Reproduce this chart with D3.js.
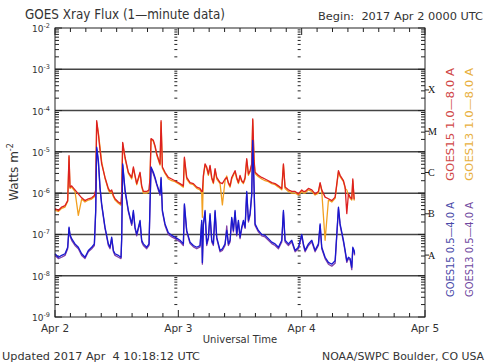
<!DOCTYPE html>
<html>
<head>
<meta charset="utf-8">
<script src="https://cdn.jsdelivr.net/npm/d3@7"></script>
<style>
    body { margin: 0; background: #fff; }
    svg { display: block; font-family: "DejaVu Sans", sans-serif; }
</style>
</head>
<body>
<div id="chart"></div>
<script>
// time in hours after 2017 Apr 2 0000 UTC
const hours = [0, 0.65, 1.3, 1.95, 2.47, 2.73, 2.92, 3.24, 3.89, 4.54, 5.19, 5.84, 6.49, 7.14, 7.66, 7.92,
    8.11, 8.44, 8.76, 9.08, 9.73, 10.38, 10.71, 11.03, 11.36, 11.68, 12.33, 12.85, 12.98, 13.17, 13.63, 14.28,
    14.93, 15.25, 15.57, 15.9, 16.55, 16.87, 17.2, 17.85, 18.3, 18.49, 18.69, 19.14, 19.47, 19.79, 20.44, 20.64,
    20.9, 21.41, 22.06, 22.71, 23.36, 24.33, 24.98, 25.18, 25.63, 26.28, 26.93, 27.58, 28.23, 28.55, 28.68, 28.88,
    29.2, 29.52, 29.85, 30.17, 30.5, 30.82, 31.15, 31.47, 32.12, 32.57, 33.09, 33.42, 33.74, 34.07, 34.39, 34.72,
    35.04, 35.36, 35.69, 36.01, 36.34, 36.66, 36.99, 37.31, 37.64, 37.96, 38.28, 38.48, 38.74, 38.93, 39.58, 40.23,
    40.88, 41.53, 42.18, 42.83, 43.48, 44.13, 44.45, 44.77, 45.42, 46.07, 46.72, 47.37, 48.02, 48.34, 48.67, 49.32,
    49.97, 50.61, 51.26, 51.59, 51.91, 52.56, 53.21, 53.86, 54.51, 55.16, 55.48, 56.13, 56.46, 56.78, 57.1, 57.43,
    57.75, 57.95, 58.21, 58.3];

// GOES15 1.0-8.0 A (W m-2)
const goes15Long = [4.2e-7, 3.8e-7, 4.6e-7, 5.0e-7, 6.6e-7, 8.1e-6, 1.4e-6, 1.5e-6, 1.2e-6, 9.6e-7, 7.7e-7, 6.6e-7,
    7.3e-7, 7.7e-7, 8.8e-7, 1.2e-6, 5.7e-5, 2.7e-5, 1.1e-5, 5.1e-6, 2.4e-6, 1.3e-6, 1.1e-6, 1.2e-6, 8.8e-7, 7.3e-7,
    6.1e-7, 5.5e-7, 9.6e-7, 1.7e-5, 7.4e-6, 3.2e-6, 2.4e-6, 4.3e-6, 2.7e-6, 1.7e-6, 3.2e-6, 1.5e-6, 1.1e-6, 1.1e-6,
    1.2e-6, 2.4e-6, 2.1e-5, 1.9e-5, 1.4e-5, 9.0e-6, 5.1e-6, 5.7e-5, 4.3e-6, 3.2e-6, 2.4e-6, 2.2e-6, 2.0e-6, 1.7e-6,
    1.5e-6, 7.4e-6, 2.4e-6, 1.8e-6, 1.7e-6, 1.4e-6, 1.3e-6, 1.1e-6, 1.1e-6, 2.7e-6,
    5.1e-6, 4.3e-6, 2.9e-6, 4.7e-6, 2.4e-6, 1.8e-6, 3.9e-6, 2.4e-6, 1.8e-6, 1.7e-6, 2.2e-6, 2.4e-6, 1.8e-6, 1.5e-6,
    2.4e-6, 2.9e-6, 3.5e-6, 2.4e-6, 1.8e-6, 2.7e-6, 2.0e-6, 1.8e-6, 2.4e-6, 6.8e-6, 2.9e-6, 3.5e-6, 5.1e-6, 6.3e-5,
    6.2e-6, 3.2e-6, 2.7e-6, 2.4e-6, 2.2e-6, 2.0e-6, 1.8e-6, 1.7e-6, 1.5e-6, 1.3e-6, 5.1e-6, 1.4e-6, 1.2e-6, 1.1e-6,
    1.1e-6, 9.6e-7, 1.2e-6, 1.1e-6, 1.1e-6, 1.3e-6, 1.2e-6, 9.6e-7, 1.1e-6, 1.8e-6, 1.2e-6, 8.0e-7, 7.3e-7, 6.6e-7,
    8.0e-7, 3.5e-6, 2.7e-6, 2.0e-6, 1.4e-6, 3.2e-7, 9.6e-7, 8.0e-7, 7.3e-7, 2.2e-6, 7.3e-7, 7.3e-7];

// GOES13 1.0-8.0 A
const goes13Long = [3.8e-7, 3.6e-7, 4.3e-7, 4.6e-7, 6.3e-7, 7.5e-6, 1.3e-6, 1.4e-6, 1.1e-6, 2.9e-7, 7.2e-7, 6.1e-7,
    6.8e-7, 7.2e-7, 8.2e-7, 1.1e-6, 5.2e-5, 2.9e-5, 1.3e-5, 5.8e-6, 2.3e-6, 1.2e-6, 1.0e-6, 1.1e-6, 8.2e-7, 6.8e-7,
    5.7e-7, 5.1e-7, 9.0e-7, 1.6e-5, 6.9e-6, 3.0e-6, 2.2e-6, 4.0e-6, 2.5e-6, 1.6e-6, 3.0e-6, 1.4e-6, 1.0e-6, 1.0e-6,
    1.1e-6, 2.2e-6, 2.0e-5, 1.8e-5, 1.3e-5, 8.4e-6, 4.8e-6, 5.2e-5, 4.0e-6, 3.0e-6, 2.2e-6, 2.0e-6, 1.9e-6, 1.6e-6,
    1.4e-6, 6.9e-6, 2.2e-6, 1.7e-6, 1.6e-6, 1.3e-6, 1.2e-6, 1.0e-6, 2.6e-7, 2.5e-6,
    4.8e-6, 4.0e-6, 2.7e-6, 4.4e-6, 2.2e-6, 1.7e-6, 3.6e-6, 2.2e-6, 1.7e-6, 5.2e-7, 2.0e-6, 2.6e-6, 1.7e-6, 1.4e-6,
    2.2e-6, 2.7e-6, 3.3e-6, 2.2e-6, 1.7e-6, 2.5e-6, 1.9e-6, 1.7e-6, 2.2e-6, 6.3e-6, 2.7e-6, 3.3e-6, 4.8e-6, 5.9e-5,
    5.8e-6, 3.0e-6, 2.5e-6, 2.2e-6, 2.0e-6, 1.9e-6, 1.7e-6, 1.6e-6, 1.4e-6, 1.2e-6, 4.8e-6, 1.3e-6, 1.1e-6, 1.0e-6,
    1.0e-6, 9.0e-7, 1.1e-6, 1.0e-6, 1.0e-6, 1.2e-6, 1.1e-6, 9.0e-7, 1.0e-6, 1.7e-6, 1.1e-6, 7.2e-8, 6.8e-7, 6.1e-7,
    7.5e-7, 3.3e-6, 2.5e-6, 1.9e-6, 1.3e-6, 1.2e-6, 9.0e-7, 7.5e-7, 6.8e-7, 2.0e-6, 6.8e-7, 6.8e-7];

// GOES15 0.5-4.0 A
const goes15Short = [3.4e-8, 2.8e-8, 3.1e-8, 3.4e-8, 4.9e-8, 1.5e-7, 1.0e-7, 7.9e-8, 5.9e-8, 4.9e-8, 3.4e-8, 2.8e-8,
    4.1e-8, 4.9e-8, 5.9e-8, 3.8e-7, 1.3e-5, 6.2e-6, 1.4e-6, 5.5e-7, 1.5e-7, 5.9e-8, 4.9e-8, 8.6e-8, 4.1e-8, 3.4e-8,
    3.1e-8, 2.8e-8, 8.6e-8, 5.1e-6, 1.2e-6, 3.8e-7, 1.8e-7, 3.8e-7, 1.5e-7, 1.0e-7, 2.2e-7, 7.2e-8, 5.9e-8, 4.9e-8,
    5.9e-8, 5.5e-7, 4.3e-6, 3.2e-6, 2.4e-6, 1.7e-6, 9.6e-7, 2.4e-6, 3.8e-7, 1.8e-7, 1.1e-7, 9.5e-8, 8.6e-8, 7.2e-8,
    5.9e-8, 5.5e-7, 1.25e-7, 6.5e-8, 5.4e-8, 4.9e-8, 5.4e-8, 2.2e-7, 2.1e-8, 1.8e-7,
    3.8e-7, 5.9e-8, 8.6e-8, 3.2e-7, 7.2e-8, 5.9e-8, 3.8e-7, 8.6e-8, 4.1e-8, 4.5e-8, 5.9e-8, 1.25e-7, 5.9e-8, 7.2e-8,
    2.6e-7, 1.25e-7, 3.8e-7, 1.0e-7, 2.2e-7, 8.6e-8, 1.5e-7, 2.2e-7, 1.5e-7, 1.1e-6, 2.2e-7, 3.2e-7, 9.6e-7, 1.9e-5,
    1.4e-6, 1.8e-7, 1.25e-7, 1.0e-7, 9.5e-8, 7.9e-8, 6.5e-8, 5.9e-8, 4.9e-8, 7.2e-8, 3.8e-7, 7.2e-8, 5.9e-8, 7.2e-8,
    4.1e-8, 4.9e-8, 1.0e-7, 5.9e-8, 4.1e-8, 5.9e-8, 7.2e-8, 4.1e-8, 5.9e-8, 1.8e-7, 4.9e-8, 2.8e-8, 2.1e-8, 1.9e-8,
    2.3e-8, 4.6e-7, 1.8e-7, 7.2e-8, 4.1e-8, 2.3e-8, 2.8e-8, 2.6e-8, 1.6e-8, 4.9e-8, 4.1e-8, 3.4e-8];

// GOES13 0.5-4.0 A
const goes13Short = [3.1e-8, 2.6e-8, 2.8e-8, 3.1e-8, 4.5e-8, 1.4e-7, 9.2e-8, 7.2e-8, 5.4e-8, 4.5e-8, 3.1e-8, 2.6e-8,
    3.8e-8, 4.5e-8, 5.4e-8, 3.5e-7, 1.2e-5, 5.7e-6, 1.3e-6, 5.1e-7, 1.4e-7, 5.4e-8, 4.5e-8, 7.9e-8, 3.8e-8, 3.1e-8,
    2.8e-8, 2.6e-8, 7.9e-8, 4.7e-6, 1.1e-6, 3.5e-7, 1.65e-7, 3.5e-7, 1.4e-7, 9.2e-8, 2.0e-7, 6.6e-8, 5.4e-8, 4.5e-8,
    5.4e-8, 5.1e-7, 4.0e-6, 2.9e-6, 2.2e-6, 1.6e-6, 8.8e-7, 2.2e-6, 3.5e-7, 1.65e-7, 1.0e-7, 8.7e-8, 7.9e-8, 6.6e-8,
    5.4e-8, 5.1e-7, 1.15e-7, 6.0e-8, 5.0e-8, 4.5e-8, 5.0e-8, 2.0e-7, 1.9e-8, 1.65e-7,
    3.5e-7, 5.4e-8, 7.9e-8, 2.9e-7, 6.6e-8, 5.4e-8, 3.5e-7, 7.9e-8, 3.8e-8, 4.1e-8, 5.4e-8, 1.6e-7, 5.4e-8, 6.6e-8,
    2.4e-7, 1.15e-7, 3.5e-7, 9.2e-8, 2.0e-7, 7.9e-8, 1.4e-7, 2.0e-7, 1.4e-7, 1.0e-6, 2.0e-7, 2.9e-7, 8.8e-7, 1.75e-5,
    1.3e-6, 1.65e-7, 1.15e-7, 9.2e-8, 8.7e-8, 7.2e-8, 6.0e-8, 5.4e-8, 4.5e-8, 6.6e-8, 3.5e-7, 6.6e-8, 5.4e-8, 6.6e-8,
    3.8e-8, 4.5e-8, 9.2e-8, 5.4e-8, 3.8e-8, 5.4e-8, 6.6e-8, 3.8e-8, 5.4e-8, 1.65e-7, 4.5e-8, 2.6e-8, 1.9e-8, 1.7e-8,
    2.0e-8, 4.2e-7, 1.65e-7, 6.6e-8, 3.8e-8, 2.1e-8, 2.6e-8, 2.4e-8, 1.4e-8, 4.5e-8, 3.8e-8, 3.1e-8];

const dayLabels = ['Apr 2', 'Apr 3', 'Apr 4', 'Apr 5'];
const decades = [-9, -8, -7, -6, -5, -4, -3, -2];
const flareClasses = ['A', 'B', 'C', 'M', 'X'];   // 1e-8 .. 1e-4 lower bounds

function init() {
    const width = 486, height = 364;
    const left = 55, right = 425, top = 28, bottom = 317;

    const svg = d3.select('#chart')
        .append('svg')
        .attr('width', width)
        .attr('height', height);

    svg.append('rect').attr('width', width).attr('height', height).attr('fill', '#fff');

    const xScale = d3.scaleLinear().domain([0, 72]).range([left, right]);
    const yScale = d3.scaleLog().domain([1e-9, 1e-2]).range([bottom, top]);

    const ink = '#222';

    // horizontal decade lines
    svg.append('g')
        .selectAll('line')
        .data(decades.slice(1, -1))
        .join('line')
        .attr('x1', left).attr('x2', right)
        .attr('y1', d => yScale(Math.pow(10, d)))
        .attr('y2', d => yScale(Math.pow(10, d)))
        .attr('stroke', '#444')
        .attr('stroke-width', 1.5);

    // minor log ticks
    const minorY = [];
    decades.slice(0, -1).forEach(p => {
        for (let m = 2; m <= 9; m++) minorY.push(m * Math.pow(10, p));
    });

    const ticks = svg.append('g').attr('stroke', ink).attr('stroke-width', 1);

    // left and right axis ticks
    [[left, 1], [right, -1]].forEach(([x0, dir]) => {
        ticks.selectAll(null).data(decades).join('line')
            .attr('x1', x0).attr('x2', x0 + dir * 7)
            .attr('y1', d => yScale(Math.pow(10, d))).attr('y2', d => yScale(Math.pow(10, d)));
        ticks.selectAll(null).data(minorY).join('line')
            .attr('x1', x0).attr('x2', x0 + dir * 4)
            .attr('y1', d => yScale(d)).attr('y2', d => yScale(d));
    });

    // dotted tick columns at each day boundary
    [24, 48].forEach(h => {
        const x0 = xScale(h) - 1;
        ticks.selectAll(null).data(minorY).join('line')
            .attr('x1', x0 - 3).attr('x2', x0)
            .attr('y1', d => yScale(d)).attr('y2', d => yScale(d));
    });

    // top and bottom time ticks, every 3 hours
    const timeTicks = d3.range(0, 73, 3);
    [[bottom, -1], [top, 1]].forEach(([y0, dir]) => {
        ticks.selectAll(null).data(timeTicks).join('line')
            .attr('x1', d => xScale(d)).attr('x2', d => xScale(d))
            .attr('y1', y0).attr('y2', d => y0 + dir * (d % 24 === 0 ? 7 : 4));
    });

    // flare class ticks on right
    ticks.selectAll(null).data(flareClasses).join('line')
        .attr('x1', right).attr('x2', right + 4)
        .attr('y1', (d, i) => yScale(Math.pow(10, -8 + i) * 3.16))
        .attr('y2', (d, i) => yScale(Math.pow(10, -8 + i) * 3.16));

    // data lines
    const line = d3.line()
        .x(d => xScale(d[0]))
        .y(d => yScale(d[1]));

    const series = [
        { v: goes13Long, color: '#f2a020' },
        { v: goes15Long, color: '#dd2020' },
        { v: goes13Short, color: '#8040a8' },
        { v: goes15Short, color: '#1818d0' }
    ];
    series.forEach(s => {
        svg.append('path')
            .datum(d3.zip(hours, s.v))
            .attr('d', line)
            .attr('fill', 'none')
            .attr('stroke', s.color)
            .attr('stroke-width', 1.3)
            .attr('stroke-linejoin', 'round');
    });

    // frame
    svg.append('rect')
        .attr('x', left).attr('y', top)
        .attr('width', right - left).attr('height', bottom - top)
        .attr('fill', 'none')
        .attr('stroke', ink)
        .attr('stroke-width', 1);

    // y tick labels
    decades.forEach(p => {
        const t = svg.append('text')
            .attr('x', 50)
            .attr('y', yScale(Math.pow(10, p)) + 4)
            .attr('text-anchor', 'end')
            .attr('fill', '#333')
            .style('font-size', '9px');
        t.append('tspan').text('10');
        t.append('tspan').attr('dy', -4).style('font-size', '6.5px').text('-' + Math.abs(p));
    });

    // flare class letters
    svg.selectAll('.cls')
        .data(flareClasses)
        .join('text')
        .attr('class', 'cls')
        .attr('x', 428)
        .attr('y', (d, i) => yScale(Math.pow(10, -8 + i) * 3.16) + 3.5)
        .attr('fill', '#111')
        .style('font-family', '"Liberation Serif", serif')
        .style('font-size', '10px')
        .text(d => d);

    // x tick labels
    svg.selectAll('.day')
        .data(dayLabels)
        .join('text')
        .attr('class', 'day')
        .attr('x', (d, i) => xScale(i * 24))
        .attr('y', 332)
        .attr('text-anchor', 'middle')
        .attr('fill', '#333')
        .style('font-size', '10.5px')
        .text(d => d);

    svg.append('text')
        .attr('x', 240).attr('y', 343)
        .attr('text-anchor', 'middle')
        .attr('fill', '#333')
        .style('font-size', '10px')
        .text('Universal Time');

    // y axis title
    const yt = svg.append('text')
        .attr('transform', 'translate(18,172) rotate(-90)')
        .attr('text-anchor', 'middle')
        .attr('fill', '#333')
        .style('font-size', '12px');
    yt.append('tspan').text('Watts m');
    yt.append('tspan').attr('dy', -5).style('font-size', '8px').text('-2');

    // titles
    svg.append('text')
        .attr('x', 25).attr('y', 19)
        .attr('fill', '#333')
        .attr('textLength', 200)
        .attr('lengthAdjust', 'spacingAndGlyphs')
        .style('font-size', '14.5px')
        .text('GOES Xray Flux (1\u2014minute data)');

    svg.append('text')
        .attr('x', 318).attr('y', 20)
        .attr('fill', '#333')
        .attr('textLength', 165)
        .attr('lengthAdjust', 'spacingAndGlyphs')
        .style('font-size', '10.5px')
        .style('white-space', 'pre')
        .text('Begin:  2017 Apr 2 0000 UTC');

    svg.append('text')
        .attr('x', 2).attr('y', 360)
        .attr('fill', '#333')
        .attr('textLength', 198)
        .attr('lengthAdjust', 'spacingAndGlyphs')
        .style('font-size', '11px')
        .style('white-space', 'pre')
        .text('Updated 2017 Apr  4 10:18:12 UTC');

    svg.append('text')
        .attr('x', 322).attr('y', 360)
        .attr('fill', '#333')
        .attr('textLength', 162)
        .attr('lengthAdjust', 'spacingAndGlyphs')
        .style('font-size', '11px')
        .text('NOAA/SWPC Boulder, CO USA');

    // legend, rotated
    const legend = [
        { x: 454, y: 181, len: 113, color: '#d04848', text: 'GOES15 1.0\u20148.0 A' },
        { x: 473, y: 181, len: 113, color: '#e8b040', text: 'GOES13 1.0\u20148.0 A' },
        { x: 454, y: 297, len: 95, color: '#4848a8', text: 'GOES15 0.5\u20144.0 A' },
        { x: 473, y: 297, len: 95, color: '#7048a0', text: 'GOES13 0.5\u20144.0 A' }
    ];
    legend.forEach(l => {
        svg.append('text')
            .attr('transform', `translate(${l.x},${l.y}) rotate(-90)`)
            .attr('fill', l.color)
            .attr('textLength', l.len)
            .attr('lengthAdjust', 'spacingAndGlyphs')
            .style('font-size', '10.5px')
            .text(l.text);
    });
}

window.onload = init;
</script>
</body>
</html>
